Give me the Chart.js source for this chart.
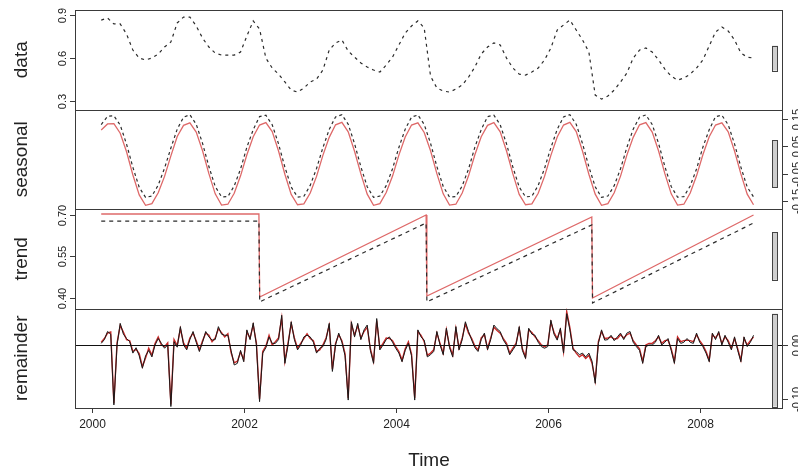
<!DOCTYPE html>
<html>
<head>
<meta charset="utf-8">
<script src="https://cdn.jsdelivr.net/npm/chart.js@4.4.0/dist/chart.umd.min.js"></script>
<style>
html,body{margin:0;padding:0;background:#fff;}
#stl{display:block;}
</style>
</head>
<body>
<canvas id="stl" width="798" height="474"></canvas>
<script>
'use strict';

// time grid: monthly series start early 2000, remainder is half-monthly
const monthStart = 2000.125;
const monthStep = 1 / 12;
const halfStep = 1 / 24;

const yearTicks = [2000, 2002, 2004, 2006, 2008];
const dataTicks = [0.3, 0.6, 0.9];
const seasonalTicks = [-0.15, -0.05, 0.05, 0.15];
const trendTicks = [0.40, 0.55, 0.70];
const remainderTicks = [-0.10, 0.00];

const dataValues = [
  0.865,0.879,0.838,0.838,0.768,0.657,0.601,0.588,0.601,0.629,0.678,0.713,
  0.845,0.886,0.886,0.824,0.740,0.678,0.636,0.622,0.622,0.622,0.643,0.754,
  0.859,0.803,0.601,0.532,0.490,0.435,0.379,0.365,0.393,0.435,0.455,0.518,
  0.657,0.706,0.727,0.650,0.608,0.567,0.539,0.518,0.504,0.553,0.608,0.692,
  0.775,0.824,0.859,0.810,0.476,0.393,0.372,0.365,0.386,0.414,0.469,0.539,
  0.629,0.678,0.706,0.692,0.601,0.532,0.490,0.483,0.504,0.532,0.588,0.671,
  0.796,0.831,0.865,0.796,0.727,0.643,0.344,0.316,0.337,0.379,0.435,0.497,
  0.601,0.657,0.671,0.643,0.588,0.525,0.476,0.448,0.462,0.490,0.532,0.588,
  0.685,0.782,0.817,0.789,0.727,0.636,0.608,0.601
];

const seasonalRed = [
  0.110,0.132,0.133,0.098,0.030,-0.055,-0.128,-0.166,-0.160,-0.120,-0.060,0.015,
  0.086,0.127,0.136,0.102,0.034,-0.050,-0.124,-0.165,-0.162,-0.122,-0.058,0.019,
  0.085,0.128,0.137,0.104,0.033,-0.052,-0.126,-0.164,-0.161,-0.121,-0.060,0.017,
  0.083,0.129,0.138,0.103,0.032,-0.051,-0.125,-0.166,-0.160,-0.119,-0.059,0.018,
  0.084,0.128,0.136,0.101,0.034,-0.050,-0.124,-0.165,-0.162,-0.121,-0.058,0.019,
  0.085,0.127,0.137,0.103,0.033,-0.051,-0.126,-0.164,-0.161,-0.122,-0.060,0.017,
  0.084,0.128,0.138,0.104,0.032,-0.052,-0.125,-0.166,-0.160,-0.120,-0.059,0.018,
  0.083,0.129,0.137,0.102,0.034,-0.050,-0.124,-0.165,-0.162,-0.121,-0.058,0.019,
  0.085,0.128,0.136,0.103,0.033,-0.051,-0.125,-0.164
];

const seasonalDashed = [
  0.130,0.160,0.162,0.128,0.058,-0.027,-0.100,-0.137,-0.132,-0.092,-0.030,0.044,
  0.113,0.157,0.166,0.131,0.061,-0.024,-0.097,-0.135,-0.134,-0.095,-0.033,0.047,
  0.111,0.159,0.164,0.129,0.059,-0.026,-0.099,-0.136,-0.133,-0.093,-0.031,0.045,
  0.112,0.158,0.166,0.131,0.060,-0.025,-0.098,-0.137,-0.132,-0.094,-0.032,0.046,
  0.113,0.157,0.165,0.130,0.061,-0.024,-0.097,-0.136,-0.134,-0.095,-0.033,0.047,
  0.111,0.159,0.164,0.129,0.059,-0.026,-0.099,-0.135,-0.133,-0.093,-0.031,0.045,
  0.112,0.158,0.166,0.131,0.060,-0.025,-0.098,-0.137,-0.132,-0.094,-0.032,0.046,
  0.113,0.157,0.165,0.130,0.061,-0.024,-0.097,-0.136,-0.134,-0.095,-0.033,0.047,
  0.111,0.159,0.164,0.129,0.059,-0.026,-0.099,-0.135
];

// trend is piecewise linear: values at the break points
const trendTimes  = [2000.125, 2002.20, 2002.21, 2004.40, 2004.41, 2006.58, 2006.59, 2008.708];
const trendRed    = [0.7036, 0.7036, 0.4037, 0.7000, 0.4073, 0.6928, 0.4000, 0.7000];
const trendDashed = [0.678, 0.678, 0.386, 0.671, 0.386, 0.664, 0.382, 0.671];

const remainderBlack = [
  0.003,0.01,0.025,0.02,-0.111,0.0,0.04,0.02,0.012,0.006,
  -0.015,-0.005,-0.02,-0.043,-0.02,-0.01,-0.022,0.0,0.012,0.003,
  -0.006,0.0,-0.114,0.006,-0.004,0.034,0.0,-0.009,0.01,0.025,
  0.005,-0.012,0.005,0.025,0.015,0.009,0.01,0.034,0.02,0.018,
  0.018,-0.01,-0.037,-0.034,-0.01,-0.031,0.028,0.01,0.041,0.0,
  -0.105,-0.015,-0.005,0.015,0.003,0.003,0.01,0.055,-0.034,0.0,
  0.043,0.01,-0.009,0.0,0.015,0.018,0.015,0.005,-0.015,-0.006,
  -0.003,0.01,0.04,-0.049,0.0,0.022,0.005,-0.02,-0.102,0.043,
  0.015,0.04,0.01,0.028,0.037,-0.01,-0.034,0.049,-0.009,0.0,
  0.01,0.015,0.005,-0.006,-0.015,-0.031,-0.01,0.003,-0.02,-0.102,
  0.028,0.015,0.009,-0.022,-0.018,-0.012,0.025,0.0,-0.018,0.031,
  -0.005,-0.022,0.034,-0.009,0.01,0.043,0.025,0.009,-0.005,-0.012,
  0.01,0.022,-0.009,0.01,0.037,0.03,0.025,0.009,0.0,-0.018,
  -0.009,0.0,0.034,-0.01,-0.025,0.031,0.02,0.018,0.005,-0.003,
  -0.006,-0.003,0.046,0.02,0.009,0.031,-0.015,0.058,0.028,-0.009,
  -0.012,-0.018,-0.015,-0.022,-0.015,-0.03,-0.071,0.003,0.028,0.009,
  0.01,0.018,0.008,0.015,0.022,0.01,0.022,0.025,0.005,-0.003,
  -0.01,-0.034,-0.003,0.0,0.0,0.005,0.018,0.0,0.005,0.012,
  -0.01,-0.034,0.012,0.003,0.005,0.012,0.005,0.003,0.022,0.005,
  -0.003,-0.015,-0.031,0.022,0.01,0.025,0.0,0.018,0.005,-0.009,
  0.015,-0.01,-0.031,0.015,-0.003,0.005,0.018
];

const remainderRed = [
  0.005,0.012,0.022,0.024,-0.108,0.004,0.036,0.024,0.01,0.008,
  -0.012,-0.008,-0.016,-0.04,-0.024,-0.006,-0.019,0.003,0.015,0.0,
  -0.003,0.004,-0.11,0.01,-0.001,0.03,0.004,-0.006,0.013,0.022,
  0.008,-0.009,0.008,0.022,0.018,0.006,0.013,0.03,0.023,0.015,
  0.021,-0.014,-0.033,-0.03,-0.013,-0.027,0.024,0.013,0.037,0.004,
  -0.1,-0.012,-0.002,0.018,0.0,0.006,0.013,0.05,-0.03,0.004,
  0.039,0.013,-0.006,0.003,0.012,0.021,0.012,0.008,-0.012,-0.009,
  0.0,0.013,0.036,-0.045,0.003,0.019,0.008,-0.016,-0.098,0.039,
  0.018,0.036,0.013,0.025,0.033,-0.007,-0.03,0.045,-0.006,0.003,
  0.013,0.012,0.008,-0.003,-0.012,-0.028,-0.007,0.006,-0.017,-0.098,
  0.025,0.018,0.006,-0.019,-0.015,-0.009,0.022,0.003,-0.015,0.028,
  -0.002,-0.019,0.03,-0.006,0.013,0.039,0.022,0.012,-0.002,-0.009,
  0.013,0.019,-0.006,0.013,0.033,0.027,0.022,0.012,0.003,-0.015,
  -0.006,0.003,0.03,-0.007,-0.022,0.028,0.023,0.015,0.008,0.0,
  -0.003,0.0,0.042,0.023,0.012,0.028,-0.012,0.062,0.032,-0.006,
  -0.015,-0.022,-0.018,-0.025,-0.019,-0.034,-0.066,0.006,0.025,0.012,
  0.013,0.015,0.011,0.012,0.019,0.013,0.019,0.022,0.008,0.0,
  -0.007,-0.03,0.0,0.003,0.003,0.008,0.015,0.003,0.008,0.009,
  -0.007,-0.03,0.015,0.006,0.008,0.009,0.008,0.006,0.019,0.008,
  0.0,-0.012,-0.028,0.019,0.013,0.022,0.003,0.015,0.008,-0.006,
  0.012,-0.007,-0.028,0.012,0.0,0.008,0.015
];

const PINK = 'rgb(222,105,105)';
const DARK = '#2b2b2b';

function onGrid(values, start, step){
  return values.map((v, i) => ({x: start + i * step, y: v}));
}
function onTimes(times, values){
  return times.map((t, i) => ({x: t, y: values[i]}));
}
function span(arr){
  return [Math.min(...arr), Math.max(...arr)];
}

// panels top to bottom; first series of each sets the range bar
const panels = [
  {id: 'yData', title: 'data', ticks: dataTicks, digits: 1, side: 'left', series: dataValues},
  {id: 'ySea', title: 'seasonal', ticks: seasonalTicks, digits: 2, side: 'right', series: seasonalRed},
  {id: 'yTr', title: 'trend', ticks: trendTicks, digits: 2, side: 'left', series: trendRed},
  {id: 'yRem', title: 'remainder', ticks: remainderTicks, digits: 2, side: 'right', series: remainderBlack}
];

function vtext(ctx, txt, x, y){
  ctx.save();
  ctx.translate(x, y);
  ctx.rotate(-Math.PI / 2);
  ctx.fillText(txt, 0, 0);
  ctx.restore();
}

const stlFrame = {
  id: 'stlFrame',
  afterDatasetsDraw(chart){
    const ctx = chart.ctx, area = chart.chartArea, xs = chart.scales.x;
    const ranges = panels.map(p => span(p.series));
    const mx = Math.min(...ranges.map(r => r[1] - r[0]));
    ctx.save();
    ctx.lineWidth = 1;

    // zero line in the remainder panel
    const yr = chart.scales.yRem;
    const y0 = Math.round(yr.getPixelForValue(0)) + 0.5;
    ctx.strokeStyle = '#111';
    ctx.beginPath(); ctx.moveTo(area.left, y0); ctx.lineTo(area.right, y0); ctx.stroke();

    panels.forEach((p, i) => {
      const s = chart.scales[p.id];
      const top = Math.round(s.top) + 0.5, bot = Math.round(s.bottom) + 0.5;
      ctx.strokeStyle = '#3a3a3a';
      ctx.strokeRect(area.left + 0.5, top, area.right - area.left - 1, bot - top);

      // range bar
      const mid = (ranges[i][0] + ranges[i][1]) / 2;
      const yb1 = s.getPixelForValue(mid + mx / 2), yb2 = s.getPixelForValue(mid - mx / 2);
      ctx.fillStyle = '#cfcfcf';
      ctx.fillRect(772, yb1, 6, yb2 - yb1);
      ctx.strokeStyle = '#444';
      ctx.strokeRect(772.5, Math.round(yb1) + 0.5, 5, Math.round(yb2 - yb1));

      // ticks and labels
      ctx.fillStyle = '#222';
      ctx.font = '11px "Liberation Sans", Arial, sans-serif';
      ctx.textAlign = 'center';
      ctx.textBaseline = 'middle';
      p.ticks.forEach(v => {
        const y = Math.round(s.getPixelForValue(v)) + 0.5;
        ctx.strokeStyle = '#3a3a3a';
        ctx.beginPath();
        if (p.side === 'left'){
          ctx.moveTo(area.left, y); ctx.lineTo(area.left - 5, y);
        } else {
          ctx.moveTo(area.right, y); ctx.lineTo(area.right + 5, y);
        }
        ctx.stroke();
        const x = p.side === 'left' ? area.left - 12 : area.right + 14;
        vtext(ctx, v.toFixed(p.digits), x, y);
      });

      // panel title
      ctx.font = '19px "Liberation Sans", Arial, sans-serif';
      vtext(ctx, p.title, 22, (s.top + s.bottom) / 2);
    });

    // time axis
    ctx.strokeStyle = '#3a3a3a';
    ctx.font = '12px "Liberation Sans", Arial, sans-serif';
    ctx.textBaseline = 'top';
    yearTicks.forEach(t => {
      const x = Math.round(xs.getPixelForValue(t)) + 0.5;
      ctx.beginPath(); ctx.moveTo(x, area.bottom); ctx.lineTo(x, area.bottom + 5); ctx.stroke();
      ctx.fillText(String(t), x, area.bottom + 11);
    });
    ctx.font = '19px "Liberation Sans", Arial, sans-serif';
    ctx.textBaseline = 'middle';
    ctx.fillText('Time', (area.left + area.right) / 2, 461);
    ctx.restore();
  }
};

function panelAxis(weight, min, max){
  return {type: 'linear', display: false, position: 'left', stack: 'stl', stackWeight: 1,
          weight: weight, min: min, max: max};
}

new Chart(document.getElementById('stl'), {
  type: 'line',
  data: {
    datasets: [
      {data: onGrid(dataValues, monthStart, monthStep), yAxisID: 'yData',
       borderColor: DARK, borderWidth: 1.2, borderDash: [3, 4], order: 0},
      {data: onGrid(seasonalDashed, monthStart, monthStep), yAxisID: 'ySea',
       borderColor: DARK, borderWidth: 1.2, borderDash: [3, 3], order: 0},
      {data: onGrid(seasonalRed, monthStart, monthStep), yAxisID: 'ySea',
       borderColor: PINK, borderWidth: 1.3, order: 1},
      {data: onTimes(trendTimes, trendDashed), yAxisID: 'yTr',
       borderColor: DARK, borderWidth: 1.2, borderDash: [4, 4], order: 0},
      {data: onTimes(trendTimes, trendRed), yAxisID: 'yTr',
       borderColor: PINK, borderWidth: 1.3, order: 1},
      {data: onGrid(remainderBlack, monthStart, halfStep), yAxisID: 'yRem',
       borderColor: '#1a1a1a', borderWidth: 1, order: 0},
      {data: onGrid(remainderRed, monthStart, halfStep), yAxisID: 'yRem',
       borderColor: 'rgb(200,40,40)', borderWidth: 1.4, order: 1}
    ]
  },
  options: {
    responsive: false,
    animation: false,
    devicePixelRatio: 1,
    layout: {padding: {left: 75, right: 15, top: 10, bottom: 66}},
    elements: {point: {radius: 0}, line: {tension: 0, fill: false}},
    plugins: {legend: {display: false}, tooltip: {enabled: false}},
    scales: {
      x: {type: 'linear', display: false, min: 1999.78, max: 2009.096},
      yData: panelAxis(4, 0.244, 0.935),
      ySea: panelAxis(3, -0.1795, 0.185),
      yTr: panelAxis(2, 0.362, 0.7217),
      yRem: panelAxis(1, -0.1167, 0.0676)
    }
  },
  plugins: [stlFrame]
});
</script>
</body>
</html>
